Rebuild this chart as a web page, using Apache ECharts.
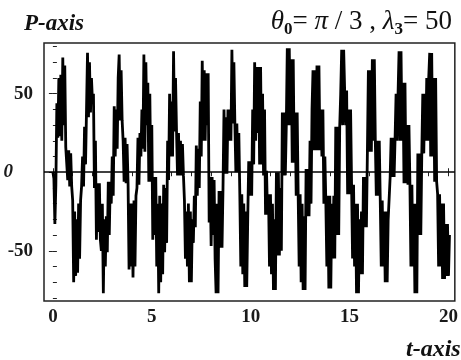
<!DOCTYPE html>
<html><head><meta charset="utf-8">
<script src="https://cdn.jsdelivr.net/npm/echarts@6/dist/echarts.min.js"></script>
<style>html,body{margin:0;padding:0;background:#fff}#c{width:461px;height:360px}</style>
</head><body><div id="c"></div>
<script>
// time sampling of the trace
const tStart = 0;
const tStep = 0.05;
// P values at t = 0.00, 0.05, ... 20.05 (10 per row = 0.5 time units)
const pValues = [
  0,-4,-33,-8,44,22,60,23,62,20,
  73,30,68,16,17,-5,14,-9,12,-9,
  -18,-70,-25,-66,-30,-64,-20,-55,-18,-9,
  10,-9,29,5,40,76,35,70,38,60,
  45,50,-10,20,-43,-7,-38,-7,-43,-50,
  -20,-77,-30,-60,-28,-51,-6,-40,-6,-20,
  10,-15,42,10,40,15,60,75,33,65,
  33,20,-6,22,-7,18,-7,-62,-20,-60,
  -20,-67,-18,-60,-15,-10,22,-8,25,10,
  40,15,75,13,70,30,57,-6,50,-6,
  30,-43,-3,-40,-3,-60,-20,-77,-15,-70,
  -20,-65,-8,-51,-10,-45,20,-5,50,10,
  45,10,77,26,60,26,-2,25,-2,20,
  -2,18,-2,-18,-55,-25,-60,-20,-70,-25,
  -70,-30,-45,-15,-35,17,-15,15,-10,45,
  10,71,20,65,20,63,30,63,-32,-3,
  -47,-3,-40,-5,-55,-77,-20,-77,-12,-48,
  -12,-48,-10,40,-1,35,-1,40,20,40,
  20,78,31,70,31,0,31,0,25,-14,
  -60,-14,-65,-20,-73,-25,-73,-30,7,-15,
  7,-15,40,5,70,20,67,25,67,5,
  67,5,50,-2,40,-27,1,-27,-14,-60,
  -14,-65,-20,-75,-30,-75,0,-53,0,-53,
  -10,-50,38,-2,38,-2,30,79,30,79,
  30,72,6,72,6,38,-15,38,-15,-60,
  -14,-70,-20,-75,-28,-75,2,-28,2,-28,
  20,-20,40,65,14,65,14,68,14,68,
  14,40,10,40,-20,10,-20,-60,-15,-74,
  -15,-74,-20,-55,-15,-55,29,-40,29,-40,
  29,50,78,30,78,52,30,52,-14,40,
  -14,40,-8,-55,-8,-60,-20,-77,-20,-77,
  -30,-65,-25,-65,-3,-35,-3,-35,13,65,
  13,65,13,72,20,72,20,-15,20,-15,
  20,-18,-60,-18,-60,-25,-70,-25,-70,-30,
  -30,-3,22,-3,22,-3,22,50,20,50,
  77,20,77,20,57,-7,57,-7,30,-8,
  30,-8,-60,-8,-60,-20,-77,-20,-77,12,
  -40,12,-40,12,50,12,50,20,60,20,
  60,76,10,76,10,60,-6,60,-6,-14,
  -60,-14,-60,-20,-68,-20,-68,-33,-66,-33,
  -66,-40
];
const xLabelValues = [0, 5, 10, 15, 20];
const xMinorTicks = [0,1,2,3,4,5,6,7,8,9,10,11,12,13,14,15,16,17,18,19,20];
const yLabelValues = [-50, 0, 50];
const yMinorTicks = [-80,-70,-60,-50,-40,-30,-20,-10,0,10,20,30,40,50,60,70,80];

const data = pValues.map((p, i) => [+(tStart + i * tStep).toFixed(2), p]);

const serif = '"Liberation Serif","Times New Roman",serif';
const chart = echarts.init(document.getElementById('c'), null, {renderer: 'canvas'});
chart.setOption({
  animation: false,
  backgroundColor: '#fff',
  title: [
    {text: 'P-axis', left: 19, top: 8,
     textStyle: {fontFamily: serif, fontSize: 23, fontWeight: 'bold', fontStyle: 'italic', color: '#111'}},
    {text: '{i|θ}{s|0}{n|= }{i|π}{n| / 3 , }{i|λ}{s|3}{n|= 50}', right: 4, top: 1,
     textStyle: {fontWeight: 'normal', rich: {
       i: {fontFamily: serif, fontSize: 27, fontStyle: 'italic', fontWeight: 'normal', color: '#111'},
       n: {fontFamily: serif, fontSize: 27, fontWeight: 'normal', color: '#111'},
       s: {fontFamily: serif, fontSize: 17, fontWeight: 'bold', color: '#111', verticalAlign: 'bottom', padding: [15, 0, 0, 0]}
     }}},
    {text: 't-axis', left: 401, top: 333,
     textStyle: {fontFamily: serif, fontSize: 24, fontWeight: 'bold', fontStyle: 'italic', color: '#111'}}
  ],
  grid: {left: 44, right: 3, top: 43, bottom: 59, show: true, borderColor: '#222', borderWidth: 1.5, backgroundColor: 'transparent'},
  xAxis: [
    {type: 'value', min: -0.45, max: 20.32, position: 'bottom',
     axisLine: {show: false}, splitLine: {show: false},
     axisTick: {show: true, inside: true, length: 4, customValues: xLabelValues, lineStyle: {color: '#222'}},
     axisLabel: {customValues: xLabelValues, margin: 7, fontFamily: serif, fontSize: 19, fontWeight: 'bold', color: '#1a1a1a'}},
    {type: 'value', min: -0.45, max: 20.32, position: 'top',
     axisLine: {show: false}, splitLine: {show: false},
     axisTick: {show: true, inside: true, length: 4, customValues: xMinorTicks, lineStyle: {color: '#222'}},
     axisLabel: {show: false}}
  ],
  yAxis: [
    {type: 'value', min: -82, max: 82.3, position: 'left',
     axisLine: {show: false}, splitLine: {show: false},
     axisTick: {show: true, inside: true, length: 4, customValues: yMinorTicks, lineStyle: {color: '#222'}},
     axisLabel: {customValues: yLabelValues, margin: 11,
       formatter: v => v === 0 ? '{z|0}' : '{n|' + v + '}',
       rich: {
         z: {fontFamily: serif, fontSize: 19, fontWeight: 'bold', fontStyle: 'italic', color: '#1a1a1a', padding: [0, 20, 0, 0]},
         n: {fontFamily: serif, fontSize: 19, fontWeight: 'bold', color: '#1a1a1a'}
       }}},
    {type: 'value', min: -82, max: 82.3, position: 'right',
     axisLine: {show: false}, splitLine: {show: false},
     axisTick: {show: true, inside: true, length: 4, customValues: yLabelValues, lineStyle: {color: '#222'}},
     axisLabel: {show: false}}
  ],
  series: [{
    type: 'line', data: data, xAxisIndex: 0, yAxisIndex: 0,
    showSymbol: false, symbol: 'none', smooth: false,
    lineStyle: {color: '#000', width: 2.8, join: 'bevel'},
    markLine: {silent: true, symbol: 'none', label: {show: false},
      lineStyle: {color: '#000', width: 1.6, type: 'solid'},
      data: [{yAxis: 0}]}
  }]
});
</script></body></html>
